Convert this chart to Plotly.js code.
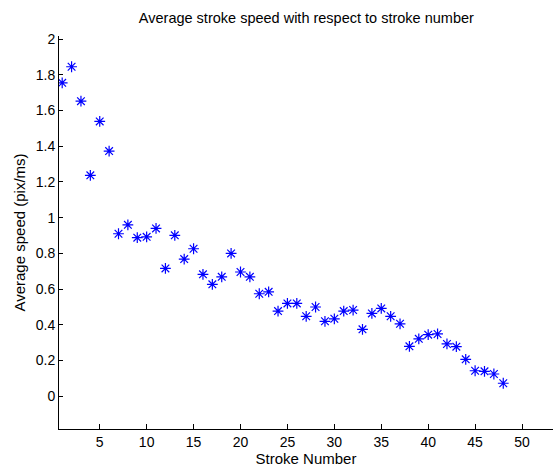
<!DOCTYPE html>
<html><head><meta charset="utf-8">
<script src="https://cdn.plot.ly/plotly-3.0.1.min.js"></script>
<style>html,body{margin:0;padding:0;background:#fff}#chart{width:553px;height:468px}</style>
</head><body><div id="chart"></div>
<script>
const strokeNumber = [1,2,3,4,5,6,7,8,9,10,11,12,13,14,15,16,17,18,19,20,21,22,23,24,25,26,27,28,29,30,31,32,33,34,35,36,37,38,39,40,41,42,43,44,45,46,47,48];
const avgSpeed = [1.755,1.845,1.652,1.237,1.539,1.373,0.910,0.960,0.888,0.893,0.940,0.716,0.901,0.768,0.826,0.683,0.627,0.669,0.800,0.696,0.669,0.574,0.585,0.477,0.520,0.520,0.448,0.500,0.420,0.434,0.477,0.483,0.375,0.464,0.492,0.448,0.406,0.280,0.322,0.345,0.349,0.293,0.278,0.207,0.143,0.140,0.125,0.073];
const xTicks = [5,10,15,20,25,30,35,40,45,50];
const yTicks = [0,0.2,0.4,0.6,0.8,1,1.2,1.4,1.6,1.8,2];

const fam = '"Liberation Sans", Arial, sans-serif';
Plotly.newPlot('chart', [{
  x: strokeNumber, y: avgSpeed, type: 'scatter', mode: 'markers',
  marker: {symbol: 'asterisk-open', size: 9, color: '#0000ff', line: {color: '#0000ff', width: 1.2}}
}], {
  width: 553, height: 468,
  margin: {l: 59, r: 0, t: 36, b: 39},
  paper_bgcolor: '#fff', plot_bgcolor: '#fff',
  showlegend: false,
  font: {family: fam, size: 14, color: '#000'},
  title: {text: 'Average stroke speed with respect to stroke number', font: {family: fam, size: 14.5, color: '#000'}, x: 0.554, xanchor: 'center', y: 0.962, yanchor: 'middle'},
  xaxis: {range: [0.66, 53.3], tickvals: xTicks, ticks: 'inside', ticklen: 5, tickcolor: '#000', showline: true, linecolor: '#000', linewidth: 1, showgrid: false, zeroline: false, tickfont: {family: fam, size: 14, color: '#000'},
    title: {text: 'Stroke Number', font: {family: fam, size: 15, color: '#000'}, standoff: 2}},
  yaxis: {range: [-0.183, 2.017], tickvals: yTicks, ticks: 'inside', ticklen: 4, tickcolor: '#000', showline: true, linecolor: '#000', linewidth: 1, showgrid: false, zeroline: false, tickfont: {family: fam, size: 14, color: '#000'},
    title: {text: 'Average speed (pix/ms)', font: {family: fam, size: 15, color: '#000'}, standoff: 6}}
}, {staticPlot: true, displayModeBar: false});
</script></body></html>
